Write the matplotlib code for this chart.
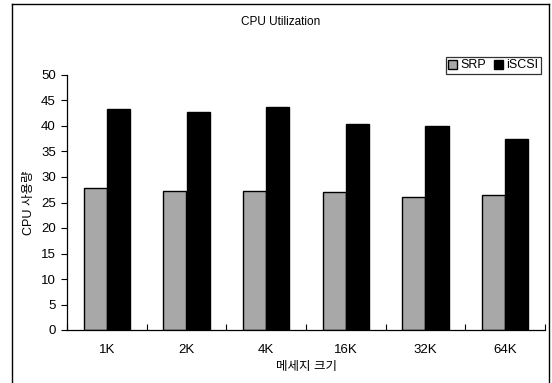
import matplotlib
matplotlib.use("Agg")
import matplotlib.pyplot as plt
import numpy as np
from matplotlib.lines import Line2D

plt.rcParams['font.family'] = ['Liberation Sans', 'Noto Sans CJK KR', 'DejaVu Sans']

categories = ["1K", "2K", "4K", "16K", "32K", "64K"]
srp = [27.8, 27.3, 27.3, 27.1, 26.0, 26.4]
iscsi = [43.3, 42.7, 43.7, 40.3, 40.0, 37.4]
y_ticks = [0, 5, 10, 15, 20, 25, 30, 35, 40, 45, 50]

W, H = 552, 383
fig = plt.figure(figsize=(W / 100, H / 100), dpi=100)
fig.patch.set_facecolor("white")

ax = fig.add_axes([67 / W, 1 - 330 / H, (545 - 67) / W, (330 - 75) / H])

x = np.arange(len(categories))
bw = 0.29
ax.bar(x - bw / 2, srp, width=bw, color="#a8a8a8", edgecolor="black",
       linewidth=1.0, label="SRP")
ax.bar(x + bw / 2, iscsi, width=bw, color="black", edgecolor="black",
       linewidth=1.0, label="iSCSI")

ax.set_xlim(-0.5, len(categories) - 0.5)
ax.set_ylim(0, 50)
ax.set_yticks(y_ticks)
ax.tick_params(axis="y", direction="out", length=4, width=0.8, pad=4, labelsize=9.5)

# category labels centred, tick marks on category boundaries
ax.set_xticks(x)
ax.set_xticklabels(categories, fontsize=9.5)
ax.tick_params(axis="x", which="major", length=0, pad=10)
ax.set_xticks(np.arange(len(categories) + 1) - 0.5, minor=True)
ax.tick_params(axis="x", which="minor", direction="in", length=4, width=0.8)

for s in ("top", "right"):
    ax.spines[s].set_visible(False)
for s in ("left", "bottom"):
    ax.spines[s].set_linewidth(0.9)

ax.set_xlabel("메세지 크기", fontsize=9, labelpad=4)
ax.set_ylabel("CPU 사용량", fontsize=9, labelpad=4)

fig.text(281 / W, 1 - 22 / H, "CPU Utilization", ha="center", va="center", fontsize=8.5)

leg = fig.legend(loc="upper right", bbox_to_anchor=(541 / W, 1 - 57 / H), ncol=2,
                 frameon=True, fancybox=False, edgecolor="black", fontsize=9,
                 handlelength=0.7, handleheight=0.7, handletextpad=0.3,
                 columnspacing=0.6, borderpad=0.2, borderaxespad=0)
leg.get_frame().set_linewidth(0.9)

# chart-area frame
for xs, ys in [((12, 12), (0, H - 4)), ((549, 549), (0, H - 4)), ((12, 549), (H - 4, H - 4))]:
    fig.add_artist(Line2D([v / W for v in xs], [v / H for v in ys], color="black",
                          linewidth=1.0, transform=fig.transFigure))

fig.savefig("out.png", dpi=100)
